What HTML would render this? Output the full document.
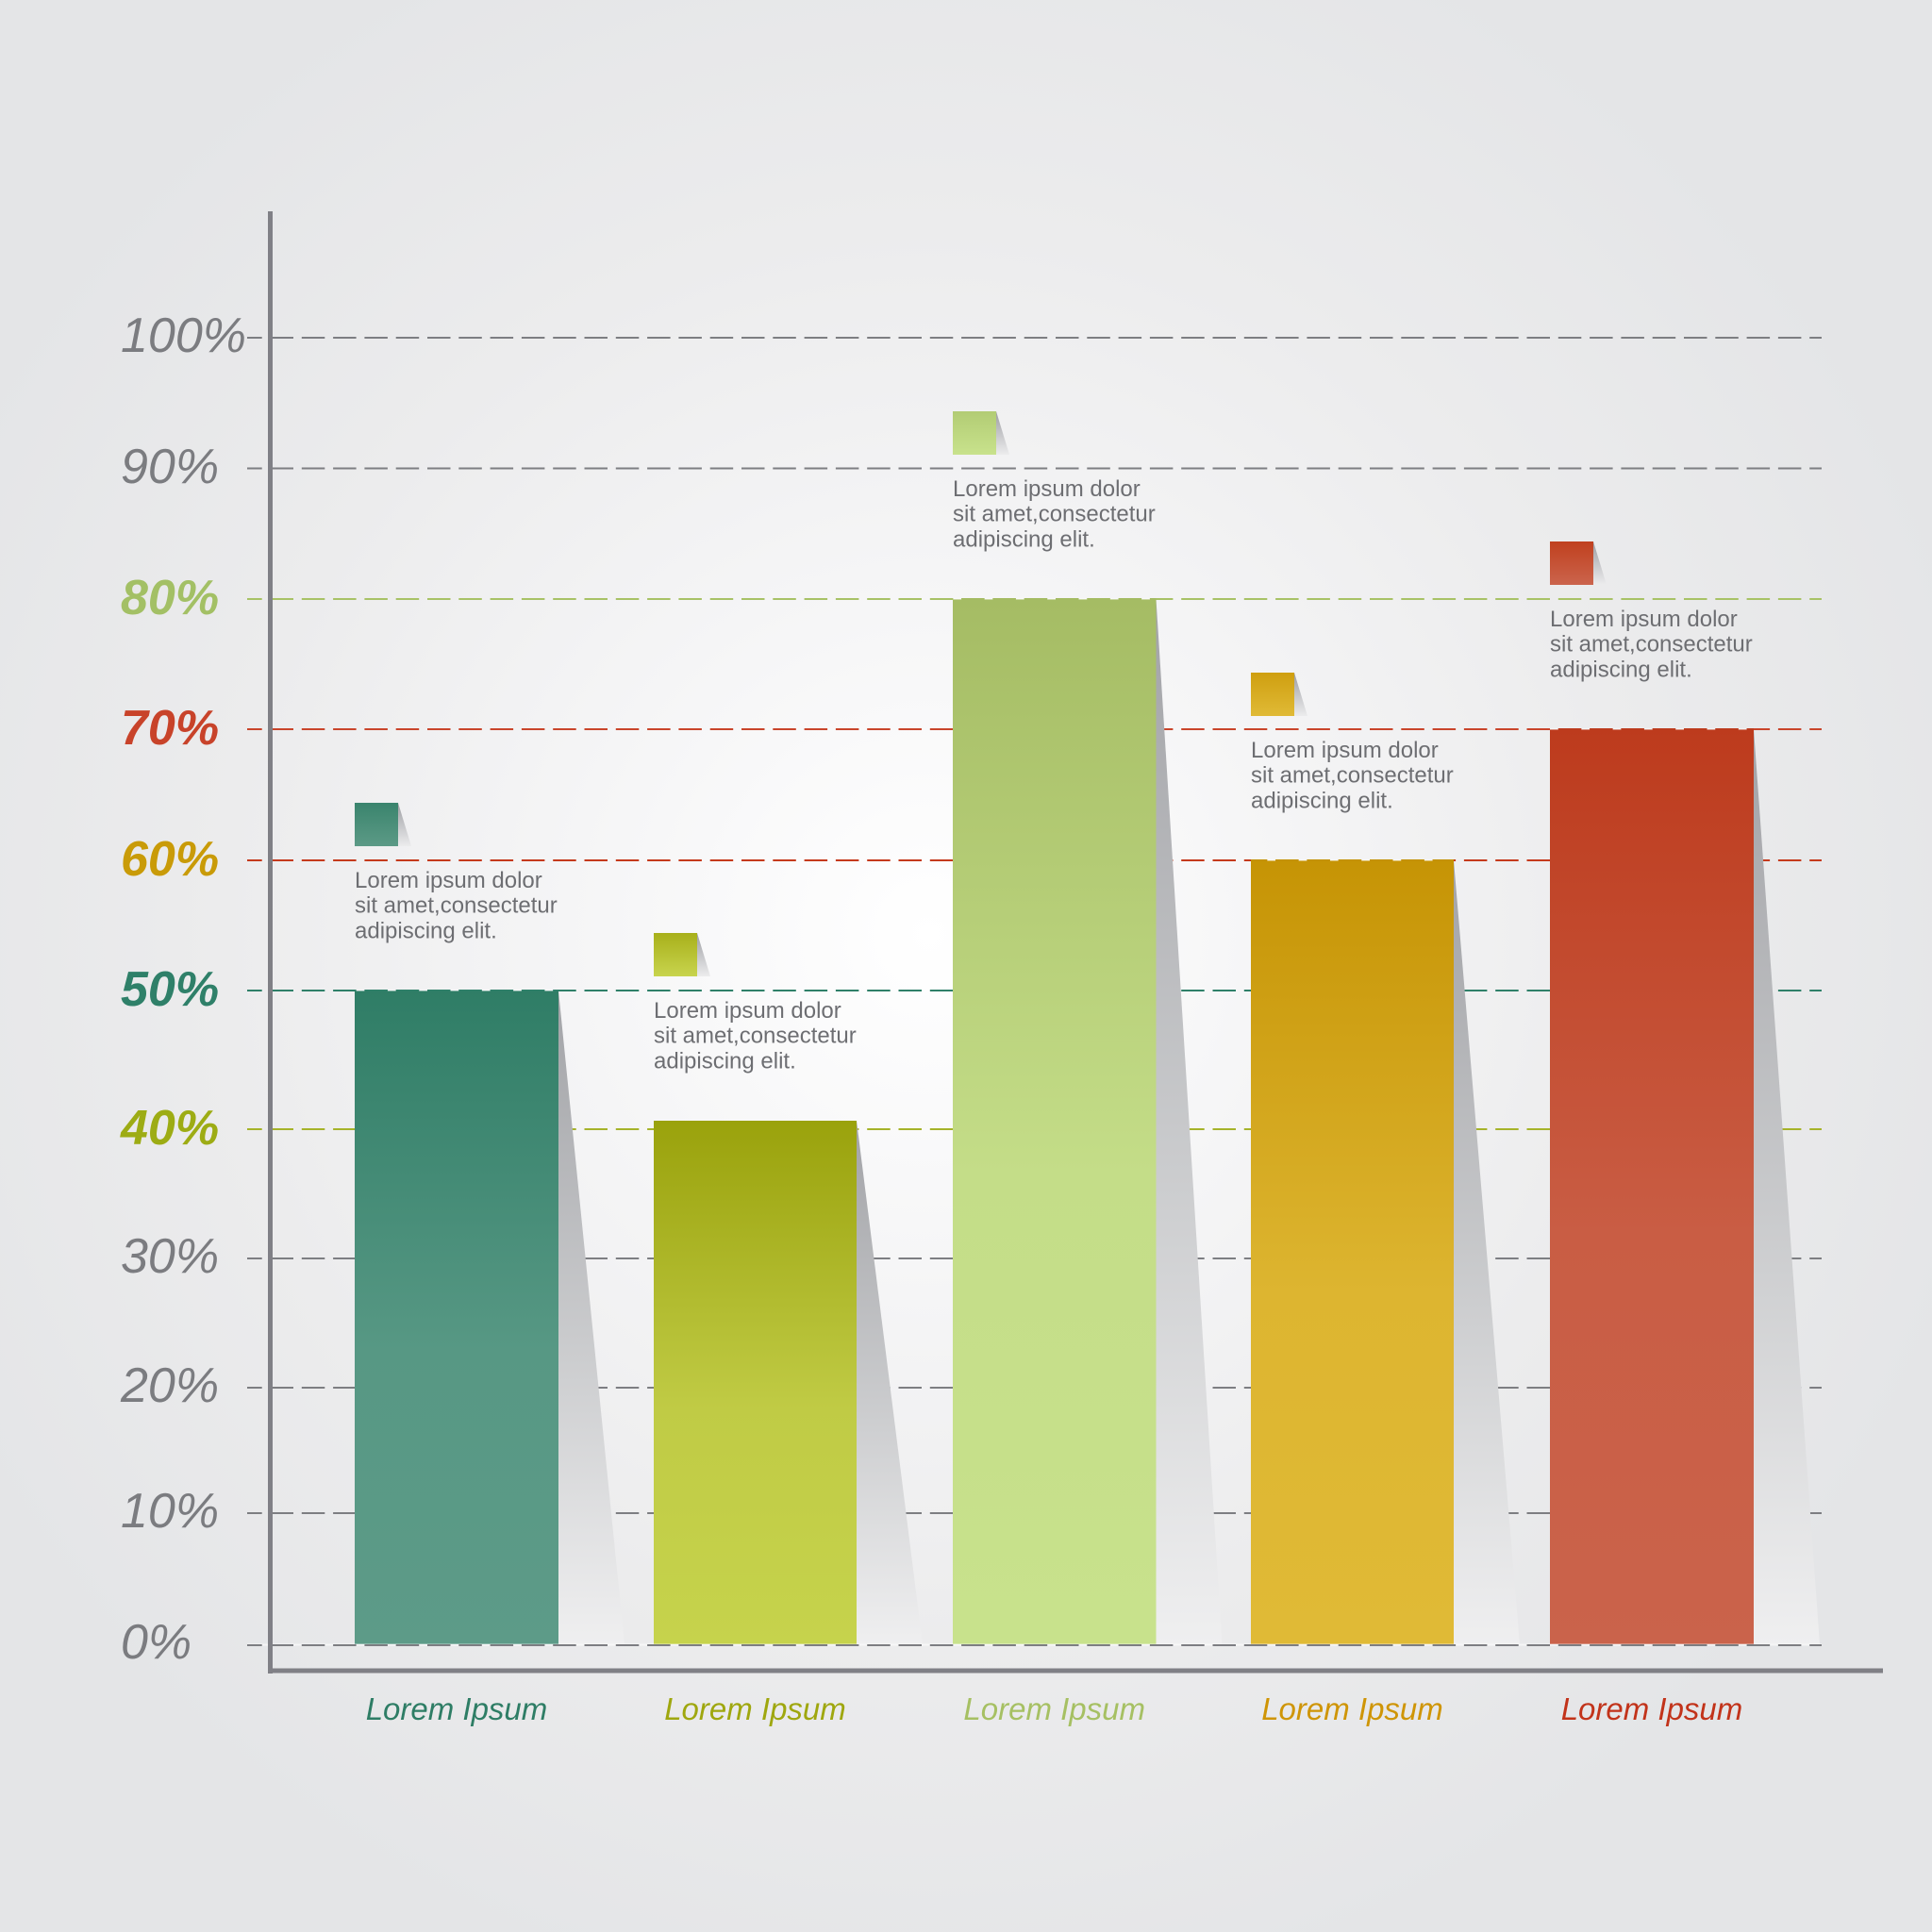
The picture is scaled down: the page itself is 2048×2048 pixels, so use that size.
<!DOCTYPE html>
<html><head><meta charset="utf-8"><style>
html,body{margin:0;padding:0;width:2048px;height:2048px;overflow:hidden;background:#e8e9ea}
svg{display:block}
text{font-family:"Liberation Sans",Arial,sans-serif}
</style></head><body>
<svg width="2048" height="2048" viewBox="0 0 2048 2048" xmlns="http://www.w3.org/2000/svg">
<defs>
<radialGradient id="bg" cx="985" cy="990" r="1150" gradientUnits="userSpaceOnUse">
<stop offset="0" stop-color="#ffffff"/>
<stop offset="0.3" stop-color="#f6f6f7"/>
<stop offset="0.65" stop-color="#ececed"/>
<stop offset="1" stop-color="#e4e5e7"/>
</radialGradient>
<linearGradient id="sh" x1="0" y1="0" x2="0" y2="1">
<stop offset="0" stop-color="#a2a3a7"/>
<stop offset="0.55" stop-color="#cbccce"/>
<stop offset="1" stop-color="#efeff0"/>
</linearGradient>
<linearGradient id="fold" x1="0" y1="0" x2="0" y2="1">
<stop offset="0" stop-color="#9c9da2"/>
<stop offset="1" stop-color="#ececed"/>
</linearGradient>
<linearGradient id="g1" x1="0" y1="0" x2="0" y2="1"><stop offset="0" stop-color="#2f7d66"/><stop offset="0.55" stop-color="#579884"/><stop offset="1" stop-color="#5d9b88"/></linearGradient>
<linearGradient id="g2" x1="0" y1="0" x2="0" y2="1"><stop offset="0" stop-color="#9aa20c"/><stop offset="0.55" stop-color="#c0cb45"/><stop offset="1" stop-color="#c6d34c"/></linearGradient>
<linearGradient id="g3" x1="0" y1="0" x2="0" y2="1"><stop offset="0" stop-color="#a5bc64"/><stop offset="0.55" stop-color="#c4dd88"/><stop offset="1" stop-color="#c8e28c"/></linearGradient>
<linearGradient id="g4" x1="0" y1="0" x2="0" y2="1"><stop offset="0" stop-color="#c69405"/><stop offset="0.55" stop-color="#ddb530"/><stop offset="1" stop-color="#e0ba36"/></linearGradient>
<linearGradient id="g5" x1="0" y1="0" x2="0" y2="1"><stop offset="0" stop-color="#bd3b1d"/><stop offset="0.55" stop-color="#c95d44"/><stop offset="1" stop-color="#ca634b"/></linearGradient>
<linearGradient id="s1" x1="0" y1="0" x2="0" y2="1"><stop offset="0" stop-color="#3a846d"/><stop offset="1" stop-color="#5c9a86"/></linearGradient>
<linearGradient id="s2" x1="0" y1="0" x2="0" y2="1"><stop offset="0" stop-color="#a8b01a"/><stop offset="1" stop-color="#c8d44e"/></linearGradient>
<linearGradient id="s3" x1="0" y1="0" x2="0" y2="1"><stop offset="0" stop-color="#b2cc74"/><stop offset="1" stop-color="#c8e28c"/></linearGradient>
<linearGradient id="s4" x1="0" y1="0" x2="0" y2="1"><stop offset="0" stop-color="#cf9f10"/><stop offset="1" stop-color="#e0ba36"/></linearGradient>
<linearGradient id="s5" x1="0" y1="0" x2="0" y2="1"><stop offset="0" stop-color="#c0401f"/><stop offset="1" stop-color="#cb644c"/></linearGradient>
</defs>

<rect x="0" y="0" width="2048" height="2048" fill="url(#bg)"/>

<g stroke-width="2" stroke-dasharray="24.5 8.8" stroke-dashoffset="8.8" fill="none">
<line x1="262" y1="358" x2="1931" y2="358" stroke="#7d7e82"/>
<line x1="262" y1="496.5" x2="1931" y2="496.5" stroke="#7d7e82"/>
<line x1="262" y1="635" x2="1931" y2="635" stroke="#a8c266"/>
<line x1="262" y1="773" x2="1931" y2="773" stroke="#c9452b"/>
<line x1="262" y1="912" x2="1931" y2="912" stroke="#c53a1c"/>
<line x1="262" y1="1050" x2="1931" y2="1050" stroke="#2f8069"/>
<line x1="262" y1="1197" x2="1931" y2="1197" stroke="#a6b32a"/>
<line x1="262" y1="1334" x2="1931" y2="1334" stroke="#7d7e82"/>
<line x1="262" y1="1471" x2="1931" y2="1471" stroke="#7d7e82"/>
<line x1="262" y1="1604" x2="1931" y2="1604" stroke="#7d7e82"/>
</g>

<polygon points="592,1050 662,1743 592,1743" fill="url(#sh)"/>
<polygon points="908,1188 978,1743 908,1743" fill="url(#sh)"/>
<polygon points="1225.5,635 1295.5,1743 1225.5,1743" fill="url(#sh)"/>
<polygon points="1541,912 1611,1743 1541,1743" fill="url(#sh)"/>
<polygon points="1859,773 1929,1743 1859,1743" fill="url(#sh)"/>

<rect x="376" y="1050" width="216" height="693" fill="url(#g1)"/>
<rect x="693" y="1188" width="215" height="555" fill="url(#g2)"/>
<rect x="1010" y="635" width="215.5" height="1108" fill="url(#g3)"/>
<rect x="1326" y="912" width="215" height="831" fill="url(#g4)"/>
<rect x="1643" y="773" width="216" height="970" fill="url(#g5)"/>

<g stroke-width="2" fill="none">
<line x1="376" y1="1050" x2="592" y2="1050" stroke="#ffffff" stroke-opacity="0.4"/>
<line x1="376" y1="1050" x2="592" y2="1050" stroke="#2f8069" stroke-dasharray="24.5 8.8" stroke-dashoffset="22.9"/>
<line x1="1010" y1="635" x2="1225.5" y2="635" stroke="#ffffff" stroke-opacity="0.4"/>
<line x1="1010" y1="635" x2="1225.5" y2="635" stroke="#a4bb62" stroke-dasharray="24.5 8.8" stroke-dashoffset="24.2"/>
<line x1="1326" y1="912" x2="1541" y2="912" stroke="#ffffff" stroke-opacity="0.4"/>
<line x1="1326" y1="912" x2="1541" y2="912" stroke="#c49205" stroke-dasharray="24.5 8.8" stroke-dashoffset="7.2"/>
<line x1="1643" y1="773" x2="1859" y2="773" stroke="#ffffff" stroke-opacity="0.4"/>
<line x1="1643" y1="773" x2="1859" y2="773" stroke="#bc3a1c" stroke-dasharray="24.5 8.8" stroke-dashoffset="24.5"/>
</g>

<line x1="262" y1="1743.5" x2="1931" y2="1743.5" stroke="#ffffff" stroke-opacity="0.6" stroke-width="2"/>
<line x1="262" y1="1744" x2="1931" y2="1744" stroke="#7d7e82" stroke-width="2" stroke-dasharray="24.5 8.8" stroke-dashoffset="8.8"/>

<rect x="284" y="224" width="5" height="1550" fill="#808086"/>
<rect x="284" y="1768.5" width="1712" height="5" fill="#808086"/>

<rect x="376" y="851" width="46" height="46" fill="url(#s1)"/>
<polygon points="422,851 436,897 422,897" fill="url(#fold)"/>
<rect x="693" y="989" width="46" height="46" fill="url(#s2)"/>
<polygon points="739,989 753,1035 739,1035" fill="url(#fold)"/>
<rect x="1010" y="436" width="46" height="46" fill="url(#s3)"/>
<polygon points="1056,436 1070,482 1056,482" fill="url(#fold)"/>
<rect x="1326" y="713" width="46" height="46" fill="url(#s4)"/>
<polygon points="1372,713 1386,759 1372,759" fill="url(#fold)"/>
<rect x="1643" y="574" width="46" height="46" fill="url(#s5)"/>
<polygon points="1689,574 1703,620 1689,620" fill="url(#fold)"/>

<g font-size="24" fill="#6d6e72">
<text x="376" y="941">Lorem ipsum dolor</text>
<text x="376" y="967.7">sit amet,consectetur</text>
<text x="376" y="994.3">adipiscing elit.</text>
<text x="693" y="1079">Lorem ipsum dolor</text>
<text x="693" y="1105.7">sit amet,consectetur</text>
<text x="693" y="1132.3">adipiscing elit.</text>
<text x="1010" y="526">Lorem ipsum dolor</text>
<text x="1010" y="552.7">sit amet,consectetur</text>
<text x="1010" y="579.3">adipiscing elit.</text>
<text x="1326" y="803">Lorem ipsum dolor</text>
<text x="1326" y="829.7">sit amet,consectetur</text>
<text x="1326" y="856.3">adipiscing elit.</text>
<text x="1643" y="664">Lorem ipsum dolor</text>
<text x="1643" y="690.7">sit amet,consectetur</text>
<text x="1643" y="717.3">adipiscing elit.</text>
</g>

<g font-size="52" font-style="italic">
<text x="128" y="373" fill="#7b7c80">100%</text>
<text x="128" y="512" fill="#7b7c80">90%</text>
<text x="128" y="651" fill="#a3c065" font-weight="bold">80%</text>
<text x="128" y="789" fill="#c8432a" font-weight="bold">70%</text>
<text x="128" y="928" fill="#c99b08" font-weight="bold">60%</text>
<text x="128" y="1066" fill="#2f8069" font-weight="bold">50%</text>
<text x="128" y="1213" fill="#9dac14" font-weight="bold">40%</text>
<text x="128" y="1349" fill="#7b7c80">30%</text>
<text x="128" y="1486" fill="#7b7c80">20%</text>
<text x="128" y="1619" fill="#7b7c80">10%</text>
<text x="128" y="1758" fill="#7b7c80">0%</text>
</g>

<g font-size="33" font-style="italic" text-anchor="middle">
<text x="484" y="1823" fill="#2e7d65">Lorem Ipsum</text>
<text x="800.5" y="1823" fill="#9fa70f">Lorem Ipsum</text>
<text x="1117.7" y="1823" fill="#a6c063">Lorem Ipsum</text>
<text x="1433.5" y="1823" fill="#cf9506">Lorem Ipsum</text>
<text x="1751" y="1823" fill="#c2331a">Lorem Ipsum</text>
</g>
</svg>
</body></html>
